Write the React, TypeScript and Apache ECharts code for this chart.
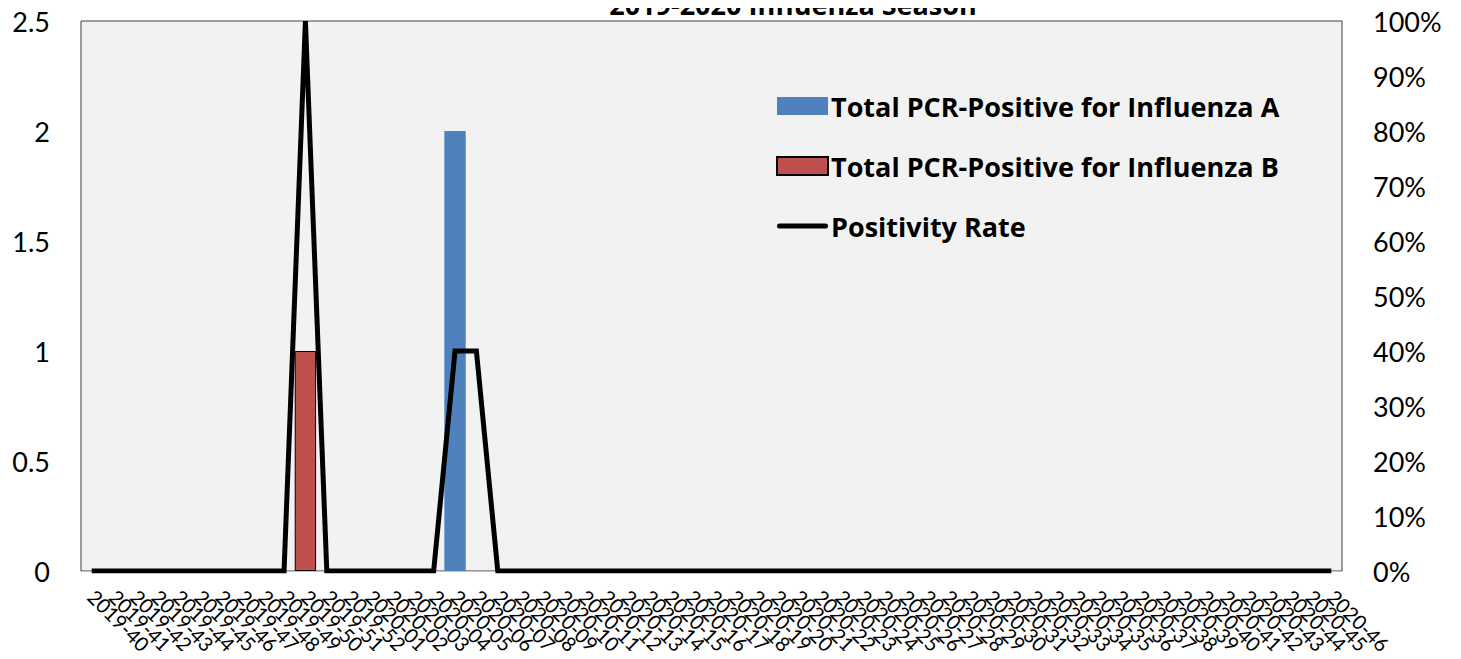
import React, { useEffect, useRef } from "react";
import * as echarts from "echarts";

const weeks2019: string[] = ["40","41","42","43","44","45","46","47","48","49","50","51","52"];
const weeks2020: string[] = [
  "01","02","03","04","05","06","07","08","09","10",
  "11","12","13","14","15","16","17","18","19","20",
  "21","22","23","24","25","26","27","28","29","30",
  "31","32","33","34","35","36","37","38","39","40",
  "41","42","43","44","45","46",
];
const categories: string[] = [
  ...weeks2019.map((w) => "2019-" + w),
  ...weeks2020.map((w) => "2020-" + w),
];

// Total PCR-Positive for Influenza A (count)
const fluA: number[] = [
  // 2019-40 .. 2019-52
  0,0,0,0,0,0,0,0,0,0,0,0,0,
  // 2020-01 .. 2020-46
  0,0,0,0,2,0,0,0,0,0,
  0,0,0,0,0,0,0,0,0,0,
  0,0,0,0,0,0,0,0,0,0,
  0,0,0,0,0,0,0,0,0,0,
  0,0,0,0,0,0,
];
// Total PCR-Positive for Influenza B (count)
const fluB: number[] = [
  0,0,0,0,0,0,0,0,0,0,1,0,0,
  0,0,0,0,0,0,0,0,0,0,
  0,0,0,0,0,0,0,0,0,0,
  0,0,0,0,0,0,0,0,0,0,
  0,0,0,0,0,0,0,0,0,0,
  0,0,0,0,0,0,
];
// Positivity Rate (fraction)
const positivity: number[] = [
  0,0,0,0,0,0,0,0,0,0,1,0,0,
  0,0,0,0,0.4,0.4,0,0,0,0,
  0,0,0,0,0,0,0,0,0,0,
  0,0,0,0,0,0,0,0,0,0,
  0,0,0,0,0,0,0,0,0,0,
  0,0,0,0,0,0,
];

const leftTicks = { min: 0, max: 2.5, interval: 0.5 };
const rightTicks = { min: 0, max: 1, interval: 0.1 };

const FONT = "Lato, 'Open Sans', sans-serif";
const BOLD_FONT = "'Open Sans', Lato, sans-serif";

export default function App() {
  const ref = useRef<HTMLDivElement>(null);
  useEffect(() => {
    if (!ref.current) return;
    const chart = echarts.init(ref.current, undefined, { renderer: "svg" });
    chart.setOption({
      animation: false,
      textStyle: { fontFamily: FONT },
      graphic: [
        {
          type: "text",
          x: 793,
          y: -9,
          style: {
            text: "2019-2020 Influenza Season",
            align: "center",
            verticalAlign: "top",
            font: `bold 27px ${BOLD_FONT}`,
            fill: "#000",
          },
        },
      ],
      grid: {
        left: 81,
        right: 119,
        top: 21,
        bottom: 88,
        show: true,
        backgroundColor: "#F2F2F2",
        borderColor: "#404040",
        borderWidth: 1,
      },
      legend: {
        orient: "vertical",
        left: 776,
        top: 91,
        padding: 0,
        itemWidth: 51,
        itemHeight: 18,
        itemGap: 30,
        textStyle: {
          fontSize: 27,
          lineHeight: 30,
          fontWeight: "bold",
          color: "#000",
          fontFamily: BOLD_FONT,
          padding: [0, 0, 0, -2],
        },
        data: [
          { name: "Total PCR-Positive for Influenza A", icon: "rect" },
          { name: "Total PCR-Positive for Influenza B", icon: "rect" },
          { name: "Positivity Rate", icon: "path://M2.5,0 L48.5,0 A2.5,2.5 0 0 1 48.5,5 L2.5,5 A2.5,2.5 0 0 1 2.5,0 Z" },
        ],
      },
      xAxis: {
        type: "category",
        data: categories,
        boundaryGap: true,
        axisLine: { show: true, lineStyle: { color: "#BFBFBF", width: 1 } },
        axisTick: { show: false },
        axisLabel: {
          interval: 0,
          rotate: -45,
          margin: 22,
          fontSize: 20,
          color: "#000",
          fontFamily: FONT,
        },
        splitLine: { show: false },
      },
      yAxis: [
        {
          type: "value",
          min: leftTicks.min,
          max: leftTicks.max,
          interval: leftTicks.interval,
          position: "left",
          axisLine: { show: false },
          axisTick: { show: false },
          splitLine: { show: false },
          axisLabel: { fontSize: 27, color: "#000", margin: 31, fontFamily: FONT },
        },
        {
          type: "value",
          min: rightTicks.min,
          max: rightTicks.max,
          interval: rightTicks.interval,
          position: "right",
          axisLine: { show: false },
          axisTick: { show: false },
          splitLine: { show: false },
          axisLabel: {
            fontSize: 27,
            color: "#000",
            margin: 31,
            fontFamily: FONT,
            formatter: (v: number) => Math.round(v * 100) + "%",
          },
        },
      ],
      series: [
        {
          name: "Total PCR-Positive for Influenza A",
          type: "bar",
          yAxisIndex: 0,
          data: fluA,
          barCategoryGap: "0%",
          barGap: "-100%",
          itemStyle: { color: "#4F81BD" },
          z: 2,
        },
        {
          name: "Total PCR-Positive for Influenza B",
          type: "bar",
          yAxisIndex: 0,
          data: fluB.map((v) => (v === 0 ? "-" : v)),
          barCategoryGap: "0%",
          barGap: "-100%",
          itemStyle: { color: "#C0504D", borderColor: "#000", borderWidth: 1 },
          z: 2,
        },
        {
          name: "Positivity Rate",
          type: "line",
          yAxisIndex: 1,
          data: positivity,
          symbol: "none",
          showSymbol: false,
          lineStyle: { color: "#000", width: 5, cap: "butt", join: "miter" },
          itemStyle: { color: "#000" },
          z: 5,
        },
      ],
    });
    return () => chart.dispose();
  }, []);
  return <div ref={ref} style={{ width: 1461, height: 659, margin: -8 }} />;
}
